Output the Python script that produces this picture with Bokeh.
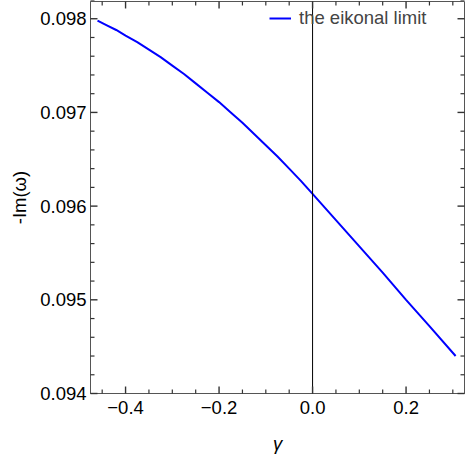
from bokeh.plotting import figure
from bokeh.models import (LinearAxis, FixedTicker, Range1d, Span,
                          CustomJSTickFormatter)
from bokeh.embed import file_html
from bokeh.resources import INLINE

# data
gamma = [-0.46, -0.44, -0.42, -0.40, -0.375, -0.35, -0.325, -0.30, -0.275,
         -0.25, -0.225, -0.20, -0.175, -0.15, -0.125, -0.10, -0.075, -0.05,
         -0.025, 0.00, 0.05, 0.10, 0.15, 0.20, 0.25, 0.306]
neg_im_omega = [0.09798, 0.09793, 0.09788, 0.09782, 0.09775, 0.09767,
                0.09759, 0.09750, 0.09741, 0.09731, 0.09721, 0.09711,
                0.09700, 0.09689, 0.09677, 0.09665, 0.09653, 0.09640,
                0.09627, 0.09613, 0.09585, 0.09557, 0.09529, 0.09500,
                0.09472, 0.09440]
series_label = "the eikonal limit"
x_label = "γ"
y_label = "-Im(ω)"

# tick values
x_major = [-0.4, -0.2, 0.0, 0.2]
x_minor = [-0.45, -0.35, -0.3, -0.25, -0.15, -0.1, -0.05, 0.05, 0.1, 0.15,
           0.25, 0.3]
y_major = [0.094, 0.095, 0.096, 0.097, 0.098]
y_minor = [0.0942, 0.0944, 0.0946, 0.0948, 0.0952, 0.0954, 0.0956, 0.0958,
           0.0962, 0.0964, 0.0966, 0.0968, 0.0972, 0.0974, 0.0976, 0.0978,
           0.0982]

X0, X1 = -0.475, 0.325
Y0, Y1 = 0.094, 0.098184

W, H = 466, 456
BL, BR, BT, BB = 90, 2, 1, 62
FW, FH = W - BL - BR, H - BT - BB   # frame size in px

FONT = "Liberation Sans"
FS = "18.5px"
AX = "#555555"
TK = "#333333"

p = figure(width=W, height=H, output_backend="svg", toolbar_location=None,
           x_range=Range1d(X0, X1), y_range=Range1d(Y0, Y1),
           min_border_left=BL, min_border_right=BR, min_border_top=BT,
           min_border_bottom=BB, x_axis_type=None, y_axis_type=None,
           styles={"position": "absolute", "left": "0px", "top": "0px"})
p.grid.visible = False
p.outline_line_color = AX
p.outline_line_width = 1
p.background_fill_color = "white"
p.border_fill_color = "white"

xfmt = CustomJSTickFormatter(code='return (tick < -1e-9 ? "\\u2212" : "") + Math.abs(tick).toFixed(1);')


def style(ax):
    ax.axis_line_color = AX
    ax.major_tick_line_color = None
    ax.minor_tick_line_color = None
    ax.major_tick_in = 0
    ax.major_tick_out = 0
    ax.minor_tick_in = 0
    ax.minor_tick_out = 0
    ax.major_label_text_font = FONT
    ax.major_label_text_font_size = FS
    ax.major_label_text_color = "black"
    ax.axis_label_text_font = FONT
    ax.axis_label_text_font_size = FS
    ax.axis_label_text_color = "black"
    ax.axis_label_text_font_style = "normal"


xb = LinearAxis(ticker=FixedTicker(ticks=x_major), formatter=xfmt,
                axis_label=x_label)
style(xb)
xb.axis_label_text_font_style = "italic"
xb.major_label_standoff = 7
xb.axis_label_standoff = 16
p.add_layout(xb, "below")

yl = LinearAxis(ticker=FixedTicker(ticks=y_major), axis_label=y_label)
style(yl)
yl.major_label_standoff = 4
yl.axis_label_standoff = 7
p.add_layout(yl, "left")

# inward tick marks on all four sides of the frame (lengths: px -> data)
dy_per_px = (Y1 - Y0) / FH
dx_per_px = (X1 - X0) / FW


def xticks(vals, L, w):
    n = len(vals)
    p.segment(x0=vals, x1=vals, y0=[Y0] * n, y1=[Y0 + L * dy_per_px] * n,
              line_color=TK, line_width=w, level="overlay")
    p.segment(x0=vals, x1=vals, y0=[Y1] * n, y1=[Y1 - L * dy_per_px] * n,
              line_color=TK, line_width=w, level="overlay")


def yticks(vals, L, w):
    n = len(vals)
    p.segment(y0=vals, y1=vals, x0=[X0] * n, x1=[X0 + L * dx_per_px] * n,
              line_color=TK, line_width=w, level="overlay")
    p.segment(y0=vals, y1=vals, x0=[X1] * n, x1=[X1 - L * dx_per_px] * n,
              line_color=TK, line_width=w, level="overlay")


xticks(x_major, 7, 1.4)
xticks(x_minor, 4, 1.2)
yticks(y_major, 7, 1.4)
yticks(y_minor, 4, 1.2)

p.add_layout(Span(location=0, dimension="height", line_color="black",
                  line_width=1))

p.line(gamma, neg_im_omega, line_color="#0000ff", line_width=2,
       legend_label=series_label)

lg = p.legend[0]
lg.location = (179, 364)
lg.border_line_color = None
lg.background_fill_alpha = 0
lg.padding = 0
lg.margin = 0
lg.spacing = 0
lg.glyph_width = 22
lg.glyph_height = 20
lg.label_height = 20
lg.label_standoff = 8
lg.label_text_font = FONT
lg.label_text_font_size = FS

open("out.html", "w").write(file_html(p, INLINE))
